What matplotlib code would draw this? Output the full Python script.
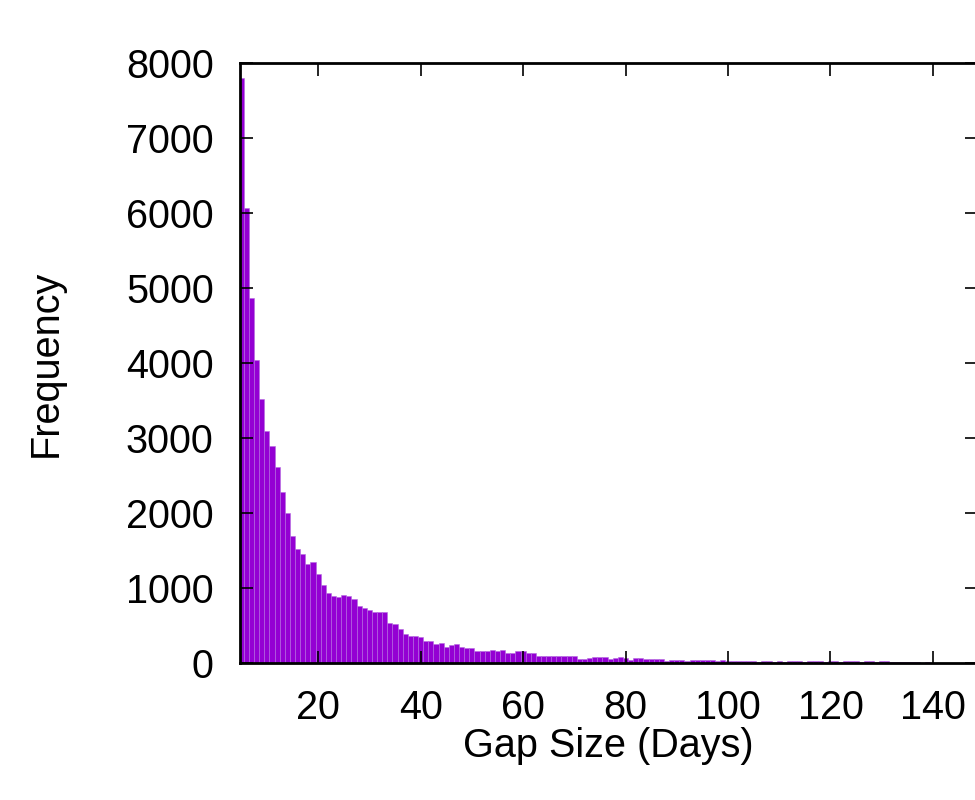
import matplotlib
matplotlib.use("Agg")
import matplotlib.pyplot as plt

# Gap size (days) and how often each gap occurs
gap_days = list(range(5, 149))
frequency = [
    7800, 6070, 4870, 4040, 3520, 3090, 2900, 2610, 2280, 2000,
    1690, 1515, 1455, 1320, 1345, 1190, 1035, 940, 900, 875,
    905, 890, 855, 765, 740, 705, 685, 685, 675, 535,
    515, 455, 390, 360, 360, 350, 300, 290, 255, 270,
    215, 235, 250, 215, 195, 195, 165, 160, 165, 175,
    160, 180, 140, 135, 155, 160, 140, 140, 100, 95,
    90, 90, 90, 90, 90, 90, 60, 60, 65, 80,
    75, 75, 60, 62, 75, 62, 40, 62, 62, 50,
    50, 58, 50, 32, 40, 40, 40, 32, 44, 40,
    36, 34, 38, 33, 35, 28, 26, 30, 24, 28,
    30, 18, 28, 30, 20, 28, 17, 29, 30, 26,
    18, 27, 28, 25, 17, 26, 24, 16, 27, 25,
    26, 16, 25, 24, 16, 24, 23, 14, 10, 8,
    9, 7, 8, 6, 7, 5, 6, 5, 4, 5,
    4, 3, 4, 3,
]
x_ticks = [20, 40, 60, 80, 100, 120, 140]
y_ticks = [0, 1000, 2000, 3000, 4000, 5000, 6000, 7000, 8000]

plt.rcParams['font.family'] = ['Liberation Sans', 'DejaVu Sans']

fig = plt.figure(figsize=(9.75, 8), dpi=100)
ax = fig.add_axes([240 / 975, 137 / 800, 737 / 975, 600 / 800])

ax.bar(gap_days, frequency, width=1.0, color='#9400d3',
       edgecolor='#b46ae0', linewidth=0.4)

ax.set_xlim(4.75, 148.6)
ax.set_ylim(0, 8000)
ax.set_xticks(x_ticks)
ax.set_yticks(y_ticks)

for s in ax.spines.values():
    s.set_linewidth(2)
ax.tick_params(direction='in', length=9, width=1.2, labelsize=28.5, pad=19,
               top=True, right=True)

ax.set_xlabel('Gap Size (Days)', fontsize=28.5, labelpad=0)
ax.set_ylabel('Frequency', fontsize=28.5, labelpad=44)

fig.savefig('out.png', dpi=100)
